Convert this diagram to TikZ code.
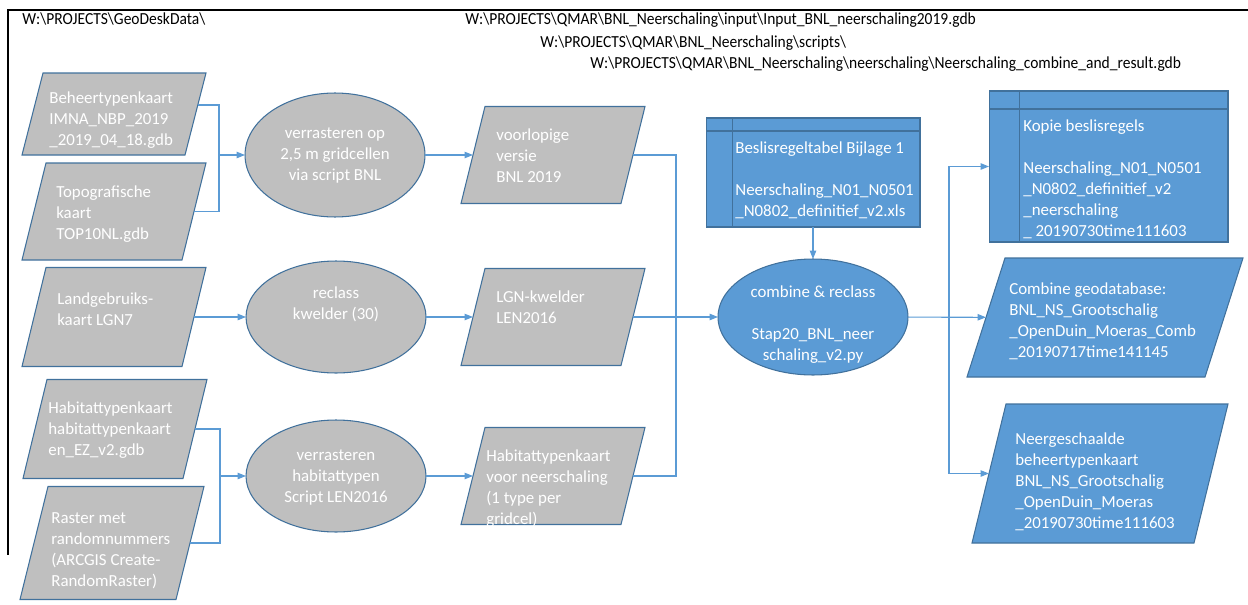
\documentclass[tikz,border=0pt]{standalone}
\usepackage{fontspec}
\setmainfont{Carlito}
\newfontfamily\pathfont[FakeStretch=0.92]{Carlito}
\usetikzlibrary{shapes.geometric,arrows.meta,calc}
\definecolor{boxblue}{HTML}{5B9BD5}
\definecolor{boxgray}{HTML}{BFBFBF}
\definecolor{boxedge}{HTML}{41719C}
\definecolor{flowline}{HTML}{5B9BD5}
% name, x, y, width at half height, height, half slant, fill style (all in px)
\newcommand{\parabox}[7]{%
  \node[inner sep=0pt,outer sep=0pt,minimum width=#4*0.02cm,minimum height=#5*0.02cm] (#1) at (#2,#3) {};
  \draw[#7] ($(#1.north west)+(#6,0)$) -- ($(#1.north east)+(#6,0)$) -- ($(#1.south east)-(#6,0)$) -- ($(#1.south west)-(#6,0)$) -- cycle;}

\begin{document}
\begin{tikzpicture}[x=0.02cm,y=-0.02cm,
  graypara/.style={draw=boxedge,fill=boxgray,line width=0.6pt},
  bluepara/.style={draw=boxedge,fill=boxblue,line width=0.6pt},
  proc/.style={ellipse,draw=boxedge,line width=0.6pt,inner sep=1pt,outer sep=0pt},
  grayproc/.style={proc,fill=boxgray},
  blueproc/.style={proc,fill=boxblue},
  table/.style={rectangle,draw=boxedge,fill=boxblue,line width=0.6pt,inner sep=1pt,outer sep=0pt},
  tline/.style={draw=boxedge,line width=0.6pt},
  txt/.style={text=white,inner sep=0pt,align=left,anchor=base west,font=\fontsize{9.6}{11.95}\selectfont},
  ctxt/.style={txt,align=center,anchor=base},
  path/.style={inner sep=0pt,anchor=base west,font=\pathfont\fontsize{9.6}{11.95}\selectfont},
  conn/.style={draw=flowline,line width=0.6pt},
  arr/.style={conn,-{Triangle[length=0.17cm,width=0.13cm]}}
]
\useasboundingbox (0,0) rectangle (1248,605);

\draw[line width=0.6pt] (1248,10) -- (8,10) -- (8,555);

\node[path] (pdesk) at (22,25) {W:\textbackslash PROJECTS\textbackslash GeoDeskData\textbackslash};
\node[path] (pinput) at (465,25) {W:\textbackslash PROJECTS\textbackslash QMAR\textbackslash BNL\_Neerschaling\textbackslash input\textbackslash Input\_BNL\_neerschaling2019.gdb};
\node[path] (pscript) at (540,48) {W:\textbackslash PROJECTS\textbackslash QMAR\textbackslash BNL\_Neerschaling\textbackslash scripts\textbackslash};
\node[path] (presult) at (590,68) {W:\textbackslash PROJECTS\textbackslash QMAR\textbackslash BNL\_Neerschaling\textbackslash neerschaling\textbackslash Neerschaling\_combine\_and\_result.gdb};

% inputs
\parabox{beheer}{114}{114}{163}{82}{10.5}{graypara}
\parabox{topo}{114}{211.5}{160}{97}{12}{graypara}
\parabox{lgnkaart}{114}{317}{160}{99}{12}{graypara}
\parabox{habkaart}{115}{429}{160}{99}{12}{graypara}
\parabox{raster}{112}{543}{156}{113}{14}{graypara}
\node[txt] at (49,145) {Beheertypenkaart\\IMNA\_NBP\_2019\\\_2019\_04\_18.gdb};
\node[txt] at (56,239) {Topografische\\kaart\\TOP10NL.gdb};
\node[txt] at (57,325) {Landgebruiks-\\kaart LGN7};
\node[txt] at (48,455) {Habitattypenkaart\\habitattypenkaart\\en\_EZ\_v2.gdb};
\node[txt] at (51,586) {Raster met\\randomnummers\\(ARCGIS Create-\\RandomRaster)};

% bewerkingen
\node[grayproc,minimum width=3.6cm,minimum height=2.48cm] (verraster) at (335,155) {};
\node[grayproc,minimum width=3.6cm,minimum height=2.24cm] (reclass) at (336,317) {};
\node[grayproc,minimum width=3.6cm,minimum height=2.24cm] (verhab) at (336,476) {};
\node[ctxt] at (335,180) {verrasteren op\\2,5 m gridcellen\\via script BNL};
\node[ctxt] at (336,319) {reclass\\kwelder (30)};
\node[ctxt] at (336,502) {verrasteren\\habitattypen\\Script LEN2016};

\parabox{voorlopig}{553}{155}{160}{97}{12}{graypara}
\parabox{lgnkwelder}{553}{317}{160}{97}{12}{graypara}
\parabox{habneer}{553}{476}{160}{97}{12}{graypara}
\node[txt] at (496,182) {voorlopige\\versie\\BNL 2019};
\node[txt] at (496,323) {LGN-kwelder\\LEN2016};
\node[txt] at (486,524) {Habitattypenkaart\\voor neerschaling\\(1 type per\\gridcel)};

% beslisregels en combine
\node[table,minimum width=4.28cm,minimum height=2.18cm] (beslis) at (813,172.5) {};
\draw[tline] ($(beslis.north west)+(0,13)$) -- ($(beslis.north east)+(0,13)$);
\draw[tline] ($(beslis.north west)+(26,0)$) -- ($(beslis.south west)+(26,0)$);
\node[txt] at (735,216) {Beslisregeltabel Bijlage 1\\[11.95pt]Neerschaling\_N01\_N0501\\\_N0802\_definitief\_v2.xls};

\node[blueproc,minimum width=3.8cm,minimum height=2.32cm] (combine) at (813,317) {};
\node[ctxt] at (813,360) {combine \& reclass\\[11.95pt]Stap20\_BNL\_neer\\schaling\_v2.py};

% resultaten
\node[table,minimum width=4.78cm,minimum height=3.02cm] (kopie) at (1108.5,166.5) {};
\draw[tline] ($(kopie.north west)+(0,18)$) -- ($(kopie.north east)+(0,18)$);
\draw[tline] ($(kopie.north west)+(30,0)$) -- ($(kopie.south west)+(30,0)$);
\node[txt] at (1023,236) {Kopie beslisregels\\[11.95pt]Neerschaling\_N01\_N0501\\\_N0802\_definitief\_v2\\\_neerschaling\\\_ 20190730time111603};

\parabox{combgdb}{1105}{317.5}{238}{119}{19}{bluepara}
\node[txt] at (1009,357) {Combine geodatabase:\\BNL\_NS\_Grootschalig\\\_OpenDuin\_Moeras\_Comb\\\_20190717time141145};

\parabox{neergesch}{1100}{473.5}{222}{139}{17}{bluepara}
\node[txt] at (1015,528) {Neergeschaalde\\beheertypenkaart\\BNL\_NS\_Grootschalig\\\_OpenDuin\_Moeras\\\_20190730time111603};

\coordinate (jtop) at (219,155);
\coordinate (jbot) at (220,476);
\coordinate (jmid) at (676,317);
\coordinate (jout) at (949,317);

\draw[conn] ($(beheer.east)+(2,-9)$) -| (jtop);
\draw[conn] (topo.east) -| (jtop);
\draw[arr] (jtop) -- (verraster);
\draw[arr] (verraster) -- (voorlopig);
\draw[arr] (lgnkaart) -- (reclass);
\draw[arr] (reclass) -- (lgnkwelder);
\draw[conn] (habkaart.east) -| (jbot);
\draw[conn] (raster.east) -| (jbot);
\draw[arr] (jbot) -- (verhab);
\draw[arr] (verhab) -- (habneer);
\draw[conn] (voorlopig.east) -| (jmid);
\draw[conn] (habneer.east) -| (jmid);
\draw[arr] (lgnkwelder) -- (combine);
\draw[arr] (beslis) -- (combine);
\draw[arr] (combine) -- (combgdb);
\draw[arr] (jout) |- (kopie.west);
\draw[arr] (jout) |- (neergesch.west);

\end{tikzpicture}
\end{document}
